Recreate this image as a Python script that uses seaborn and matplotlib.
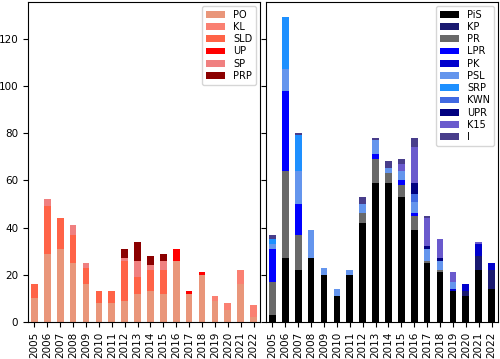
import matplotlib
matplotlib.use("Agg")
import matplotlib.pyplot as plt
from matplotlib.patches import Patch
import seaborn as sns
import pandas as pd

years = list(range(2005, 2023))

# Left panel parties
left_parties = ["PO", "KL", "SLD", "UP", "SP", "PRP"]
left_colors = ["darksalmon", "salmon", "tomato", "red", "lightcoral", "darkred"]
PO  = [10, 29, 31, 25, 16, 8, 8, 9, 12, 13, 12, 26, 12, 20, 9, 5, 16, 2]
KL  = [0, 0, 0, 0, 0, 0, 0, 0, 0, 0, 0, 0, 0, 0, 2, 3, 6, 5]
SLD = [6, 20, 13, 12, 7, 5, 5, 17, 7, 9, 10, 0, 0, 0, 0, 0, 0, 0]
UP  = [0, 0, 0, 0, 0, 0, 0, 0, 0, 0, 0, 5, 1, 1, 0, 0, 0, 0]
SP  = [0, 3, 0, 4, 2, 0, 0, 1, 7, 2, 4, 0, 0, 0, 0, 0, 0, 0]
PRP = [0, 0, 0, 0, 0, 0, 0, 4, 8, 4, 3, 0, 0, 0, 0, 0, 0, 0]
left_values = [PO, KL, SLD, UP, SP, PRP]

# Right panel parties
right_parties = ["PiS", "KP", "PR", "LPR", "PK", "PSL", "SRP", "KWN", "UPR", "K15", "I"]
right_colors = ["black", "midnightblue", "dimgray", "blue", "mediumblue", "cornflowerblue",
                "dodgerblue", "royalblue", "navy", "slateblue", "darkslateblue"]
PiS = [3, 27, 22, 27, 20, 11, 20, 42, 59, 59, 53, 39, 25, 21, 13, 11, 22, 14]
KP  = [0, 0, 0, 0, 0, 0, 0, 0, 0, 0, 0, 0, 0, 0, 0, 2, 6, 8]
PR  = [14, 37, 15, 0, 0, 0, 0, 4, 10, 4, 5, 6, 1, 1, 0, 0, 0, 0]
LPR = [14, 34, 13, 0, 0, 0, 0, 0, 2, 0, 2, 1, 0, 0, 0, 0, 0, 0]
PK  = [0, 0, 0, 0, 0, 0, 0, 0, 0, 0, 0, 0, 0, 0, 1, 3, 5, 3]
PSL = [2, 9, 14, 12, 3, 3, 2, 4, 6, 2, 4, 5, 5, 4, 3, 0, 0, 0]
SRP = [2, 22, 15, 0, 0, 0, 0, 0, 0, 0, 0, 0, 0, 0, 0, 0, 0, 0]
KWN = [0, 0, 0, 0, 0, 0, 0, 0, 0, 0, 0, 3, 0, 0, 0, 0, 0, 0]
UPR = [0, 0, 0, 0, 0, 0, 0, 0, 0, 0, 0, 5, 1, 1, 0, 0, 0, 0]
K15 = [0, 0, 0, 0, 0, 0, 0, 0, 0, 0, 3, 15, 12, 8, 4, 0, 1, 0]
I   = [2, 0, 1, 0, 0, 0, 0, 3, 1, 3, 2, 4, 1, 0, 0, 0, 0, 0]
right_values = [PiS, KP, PR, LPR, PK, PSL, SRP, KWN, UPR, K15, I]


def long_df(parties, values):
    rows = []
    for p, vals in zip(parties, values):
        for y, v in zip(years, vals):
            rows.append({"year": y, "party": p, "n": v})
    return pd.DataFrame(rows)


fig, axes = plt.subplots(1, 2, figsize=(5.0, 3.59), dpi=100, sharey=True)
fig.subplots_adjust(left=28 / 500, right=498 / 500, top=1 - 2 / 359,
                    bottom=1 - 322 / 359, wspace=0.026)

for ax, parties, values, colors in [(axes[0], left_parties, left_values, left_colors),
                                    (axes[1], right_parties, right_values, right_colors)]:
    df = long_df(parties, values)
    # reverse hue order so the first party sits at the bottom of each stack
    sns.histplot(data=df, x="year", weights="n", hue="party",
                 hue_order=parties[::-1], palette=colors[::-1],
                 multiple="stack", discrete=True, shrink=0.52,
                 alpha=1, linewidth=0, legend=False, ax=ax)
    ax.set_xlim(2004.5, 2022.5)
    ax.set_xticks(years)
    ax.set_xticklabels([str(y) for y in years], rotation=90)
    ax.set_xlabel("")
    ax.set_ylabel("")
    ax.tick_params(labelsize=7.5)
    handles = [Patch(facecolor=c, label=p) for p, c in zip(parties, colors)]
    ax.legend(handles=handles, loc="upper right", fontsize=7,
              labelspacing=0.23, handlelength=2.0, handleheight=0.7,
              borderaxespad=0.4)

axes[0].set_ylim(0, 135.5)
axes[0].set_yticks([0, 20, 40, 60, 80, 100, 120])

fig.savefig("out.png", dpi=100)
